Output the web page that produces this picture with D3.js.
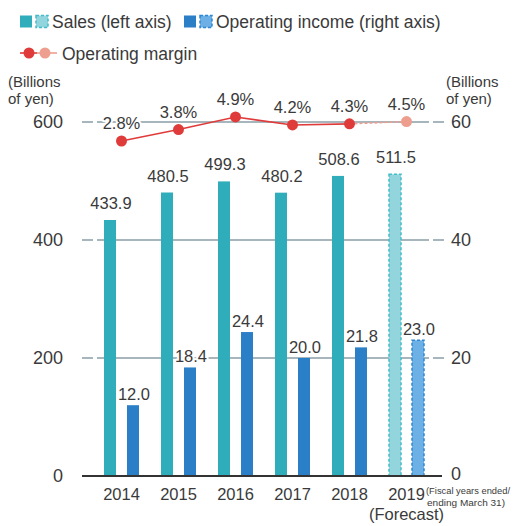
<!DOCTYPE html>
<html>
<head>
<meta charset="utf-8">
<script src="https://cdn.jsdelivr.net/npm/d3@7"></script>
<style>
  html, body { margin: 0; padding: 0; background: #fff; }
  svg { display: block; font-family: "Liberation Sans", Arial, sans-serif; }
  text { fill: #3a3a3a; }
</style>
</head>
<body>
<svg id="chart" width="516" height="526"></svg>
<script>
// Fiscal years (2019 is a forecast)
const years = ["2014", "2015", "2016", "2017", "2018", "2019"];
const forecast = [false, false, false, false, false, true];
// Sales, billions of yen (left axis)
const sales = [433.9, 480.5, 499.3, 480.2, 508.6, 511.5];
// Operating income, billions of yen (right axis)
const income = [12.0, 18.4, 24.4, 20.0, 21.8, 23.0];
// Operating margin, %
const margin = [2.8, 3.8, 4.9, 4.2, 4.3, 4.5];
// Axis ticks
const leftTicks = [0, 200, 400, 600];
const rightTicks = [0, 20, 40, 60];

const C = {
  sales: "#2fadba", salesF: "#93d5dd", salesFStroke: "#45bcc8",
  income: "#2b7fc7", incomeF: "#6db0e5", incomeFStroke: "#2f86d2",
  margin: "#e03b3b", marginF: "#ee9e8e",
  grid: "#a7b6bc", base: "#333"
};

const svg = d3.select("#chart");

const x = d3.scaleBand().domain(years).range([93, 435]).padding(0);
const yL = d3.scaleLinear().domain([0, 600]).range([476, 122]);
const yR = d3.scaleLinear().domain([0, 60]).range([476, 122]);
const yM = d3.scaleLinear().domain([0, 6]).range([173, 104.4]);

const barW = 12;
const cx = d => x(d) + x.bandwidth() / 2;
const salesX = d => cx(d) - 17.5;
const incomeX = d => cx(d) + 5.5;

const rows = years.map((y, i) => ({ year: y, sales: sales[i], income: income[i], margin: margin[i], f: forecast[i] }));

// Gridlines: two short dashes at the left, a long run, one dash at the right
svg.append("g").selectAll("line").data(leftTicks.filter(t => t > 0)).join("line")
  .attr("x1", 82).attr("x2", 444)
  .attr("y1", d => yL(d)).attr("y2", d => yL(d))
  .attr("stroke", C.grid).attr("stroke-width", 2)
  .attr("stroke-dasharray", "11,4,6,0,326,4,11,100");

// Sales bars
svg.append("g").selectAll("rect").data(rows).join("rect")
  .attr("x", d => salesX(d.year)).attr("width", barW)
  .attr("y", d => yL(d.sales)).attr("height", d => yL(0) - yL(d.sales))
  .attr("fill", d => d.f ? C.salesF : C.sales)
  .attr("stroke", d => d.f ? C.salesFStroke : "none")
  .attr("stroke-width", 1.5).attr("stroke-dasharray", "3,2");

// Operating income bars
svg.append("g").selectAll("rect").data(rows).join("rect")
  .attr("x", d => incomeX(d.year)).attr("width", barW)
  .attr("y", d => yR(d.income)).attr("height", d => yR(0) - yR(d.income))
  .attr("fill", d => d.f ? C.incomeF : C.income)
  .attr("stroke", d => d.f ? C.incomeFStroke : "none")
  .attr("stroke-width", 1.5).attr("stroke-dasharray", "3,2");

// Zero baseline
svg.append("line").attr("x1", 82).attr("x2", 442)
  .attr("y1", yL(0)).attr("y2", yL(0))
  .attr("stroke", C.base).attr("stroke-width", 2);

// Value labels with a white halo
function halo(sel) {
  return sel.attr("stroke", "#fff").attr("stroke-width", 4)
    .attr("paint-order", "stroke").attr("stroke-linejoin", "round");
}
halo(svg.append("g").selectAll("text").data(rows).join("text")
  .attr("x", d => salesX(d.year) + barW / 2 + 1)
  .attr("y", d => yL(d.sales) - 11)
  .attr("text-anchor", "middle").attr("font-size", 16.5)
  .text(d => d.sales.toFixed(1)));
halo(svg.append("g").selectAll("text").data(rows).join("text")
  .attr("x", d => incomeX(d.year) + barW / 2 + 1)
  .attr("y", d => yR(d.income) - 5)
  .attr("text-anchor", "middle").attr("font-size", 16.5)
  .text(d => d.income.toFixed(1)));

// Operating margin line
const line = d3.line().x(d => cx(d.year)).y(d => yM(d.margin));
const actual = rows.filter(d => !d.f);
const fcSeg = rows.slice(rows.length - 2);
svg.append("path").datum(actual).attr("d", line)
  .attr("fill", "none").attr("stroke", C.margin).attr("stroke-width", 1.6);
svg.append("path").datum(fcSeg).attr("d", line)
  .attr("fill", "none").attr("stroke", C.marginF).attr("stroke-width", 1.6)
  .attr("stroke-dasharray", "3,2");
svg.append("g").selectAll("circle").data(rows).join("circle")
  .attr("cx", d => cx(d.year)).attr("cy", d => yM(d.margin)).attr("r", 5.5)
  .attr("fill", d => d.f ? C.marginF : C.margin);
halo(svg.append("g").selectAll("text").data(rows).join("text")
  .attr("x", d => cx(d.year)).attr("y", d => yM(d.margin) - 12)
  .attr("text-anchor", "middle").attr("font-size", 16.5)
  .text(d => d.margin.toFixed(1) + "%"));

// Left axis
const leftAxis = d3.axisLeft(yL).tickValues(leftTicks).tickSize(0).tickPadding(0);
const gl = svg.append("g").attr("transform", "translate(63,0)").call(leftAxis);
gl.select(".domain").remove();
gl.selectAll("text").attr("font-size", 18).attr("fill", "#3a3a3a")
  .attr("font-family", "Liberation Sans, Arial, sans-serif");

// Right axis
const rightAxis = d3.axisRight(yR).tickValues(rightTicks).tickSize(0).tickPadding(0);
const gr = svg.append("g").attr("transform", "translate(451,0)").call(rightAxis);
gr.select(".domain").remove();
gr.selectAll("text").attr("font-size", 18).attr("fill", "#3a3a3a")
  .attr("font-family", "Liberation Sans, Arial, sans-serif");
gr.selectAll(".tick").filter(d => d === 0).select("text").attr("dy", "0.2em");

// Axis unit titles
[[8, "start"], [446, "start"]].forEach(([tx, anchor]) => {
  const t = svg.append("text").attr("x", tx).attr("y", 87)
    .attr("font-size", 15).attr("text-anchor", anchor);
  t.append("tspan").attr("x", tx).text("(Billions");
  t.append("tspan").attr("x", tx).attr("dy", 17).text("of yen)");
});

// Category labels
const xAxis = d3.axisBottom(x).tickSize(0).tickPadding(0);
const gx = svg.append("g").attr("transform", "translate(0,488)").call(xAxis);
gx.select(".domain").remove();
gx.selectAll("text").attr("font-size", 16.5).attr("fill", "#3a3a3a")
  .attr("font-family", "Liberation Sans, Arial, sans-serif");
svg.append("text").attr("x", cx("2019")).attr("y", 520)
  .attr("text-anchor", "middle").attr("font-size", 16.5).text("(Forecast)");
const note = svg.append("text").attr("font-size", 9.5);
note.append("tspan").attr("x", 426).attr("y", 494)
  .attr("textLength", 84).attr("lengthAdjust", "spacingAndGlyphs").text("(Fiscal years ended/");
note.append("tspan").attr("x", 427).attr("y", 506)
  .attr("textLength", 78).attr("lengthAdjust", "spacingAndGlyphs").text("ending March 31)");

// Legend
const lg = svg.append("g");
function swatch(px, py, fill, stroke) {
  lg.append("rect").attr("x", px).attr("y", py).attr("width", 12).attr("height", 12)
    .attr("fill", fill).attr("stroke", stroke || "none")
    .attr("stroke-width", 1.5).attr("stroke-dasharray", "3,2");
}
swatch(20, 15.5, C.sales);
swatch(36, 15.5, C.salesF, C.salesFStroke);
lg.append("text").attr("x", 52).attr("y", 28).attr("font-size", 17.5).text("Sales (left axis)");
swatch(184, 15.5, C.income);
swatch(200, 15.5, C.incomeF, C.incomeFStroke);
lg.append("text").attr("x", 216).attr("y", 28).attr("font-size", 17.5).text("Operating income (right axis)");
lg.append("line").attr("x1", 20).attr("x2", 37).attr("y1", 53).attr("y2", 53)
  .attr("stroke", C.margin).attr("stroke-width", 1.6);
lg.append("line").attr("x1", 37).attr("x2", 57).attr("y1", 53).attr("y2", 53)
  .attr("stroke", C.marginF).attr("stroke-width", 1.6);
lg.append("circle").attr("cx", 29).attr("cy", 53).attr("r", 5.5).attr("fill", C.margin);
lg.append("circle").attr("cx", 45).attr("cy", 53).attr("r", 5.5).attr("fill", C.marginF);
lg.append("text").attr("x", 62).attr("y", 60).attr("font-size", 17.5).text("Operating margin");
</script>
</body>
</html>
